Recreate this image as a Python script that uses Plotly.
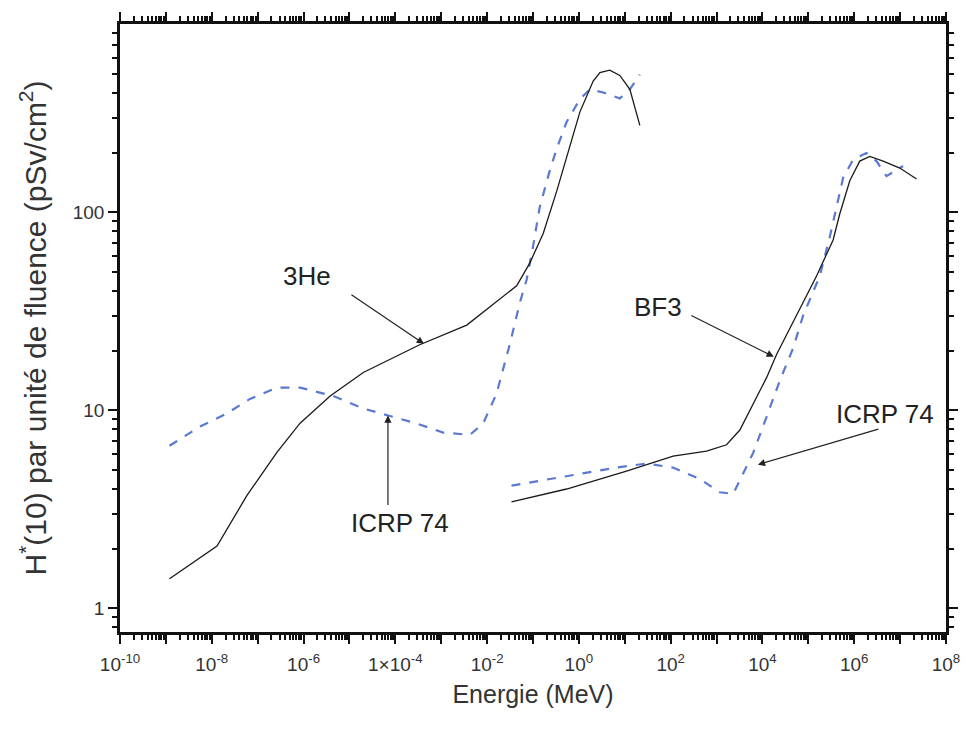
import plotly.graph_objects as go

# 3He detector response (solid)
he3_E = [1.2e-9, 1.3e-8, 5.8e-8, 2.6e-7, 8.4e-7, 3.8e-6, 2.0e-5, 3.4e-4, 3.6e-3,
         0.044, 0.085, 0.167, 0.33, 0.64, 1.05, 2.05, 2.87, 4.7, 7.8, 12.9, 21.3]
he3_H = [1.41, 2.06, 3.7, 6.1, 8.6, 11.8, 15.5, 21.4, 26.9,
         42.5, 55.3, 78, 128, 218, 320, 459, 507, 521, 490, 417, 274]

# ICRP 74 reference (dashed, 3He panel)
icrp1_E = [1.2e-9, 5.5e-9, 2.1e-8, 6.8e-8, 2.6e-7, 8.4e-7, 4.4e-6, 2.0e-5, 7.6e-5,
           2.9e-4, 1.1e-3, 4.2e-3, 8.2e-3, 0.016, 0.031, 0.052, 0.073, 0.10, 0.14,
           0.23, 0.33, 0.54, 1.05, 1.74, 3.4, 7.8, 12.9, 21.3]
icrp1_H = [6.61, 8.26, 9.61, 11.4, 13.0, 13.0, 11.8, 10.2, 9.35,
           8.57, 7.71, 7.50, 8.57, 12.1, 21.4, 35.1, 45.8, 67.0, 106,
           161, 210, 285, 372, 417, 402, 375, 417, 495]

# BF3 detector response (solid)
bf3_E = [0.034, 0.54, 10.9, 113, 605, 1650, 3220, 6270, 12300, 20300, 46700,
         1.51e5, 3.47e5, 4.85e5, 8.0e5, 1.32e6, 2.19e6, 4.27e6, 9.84e6, 2.28e7]
bf3_H = [3.44, 4.00, 4.93, 5.86, 6.21, 6.69, 7.94, 10.8, 14.6, 19.1, 27.9,
         47.6, 72.4, 98.1, 144, 181, 191, 181, 167, 147]

# ICRP 74 reference (dashed, BF3 panel)
icrp2_E = [0.034, 0.54, 6.6, 29.9, 113, 433, 1180, 2300, 3800, 6270, 12300,
           23900, 46700, 77100, 1.78e5, 2.94e5, 4.11e5, 5.73e5, 9.46e5, 1.85e6,
           3.05e6, 5.05e6, 9.84e6, 1.16e7]
icrp2_H = [4.16, 4.66, 5.13, 5.38, 5.13, 4.49, 3.85, 3.78, 4.84, 6.08, 9.25,
           14.1, 20.6, 30.1, 47.6, 75.2, 106, 149, 184, 199,
           181, 152, 167, 171]

x_tickvals = [10.0 ** k for k in range(-10, 9)]
x_ticktext = []
for k in range(-10, 9):
    if k % 2 != 0:
        x_ticktext.append("")
    elif k == -4:
        x_ticktext.append("1×10<sup>-4</sup>")
    else:
        x_ticktext.append("10<sup>%d</sup>" % k)

y_tickvals = [1, 10, 100]
y_ticktext = ["1", "10", "100"]

black = "#1a1a1a"
dash_col = "#5b79d2"
FAM = "Liberation Sans, Arial, sans-serif"

fig = go.Figure()
fig.add_trace(go.Scatter(x=icrp1_E, y=icrp1_H, mode="lines",
                         line=dict(color=dash_col, width=2.2, dash="dash"),
                         showlegend=False))
fig.add_trace(go.Scatter(x=he3_E, y=he3_H, mode="lines",
                         line=dict(color=black, width=1.3),
                         showlegend=False))
fig.add_trace(go.Scatter(x=icrp2_E, y=icrp2_H, mode="lines",
                         line=dict(color=dash_col, width=2.2, dash="dash"),
                         showlegend=False))
fig.add_trace(go.Scatter(x=bf3_E, y=bf3_H, mode="lines",
                         line=dict(color=black, width=1.3),
                         showlegend=False))

font_txt = dict(family=FAM, size=26, color="#222")
ann = []
# text labels
ann.append(dict(x=-5.926, y=1.677, xref="x", yref="y", text="3He", showarrow=False, font=font_txt))
ann.append(dict(x=-3.90, y=0.432, xref="x", yref="y", text="ICRP 74", showarrow=False, font=font_txt))
ann.append(dict(x=1.721, y=1.519, xref="x", yref="y", text="BF3", showarrow=False, font=font_txt))
ann.append(dict(x=6.667, y=0.983, xref="x", yref="y", text="ICRP 74", showarrow=False, font=font_txt))
# arrows
arrow_style = dict(xref="x", yref="y", text="", showarrow=True, arrowhead=2,
                   arrowsize=1.2, arrowwidth=1.2, arrowcolor="#222")
ann.append(dict(x=-3.377, y=1.335, ax=-74, ay=-50, **arrow_style))
ann.append(dict(x=-4.161, y=0.973, ax=0, ay=91, **arrow_style))
ann.append(dict(x=4.248, y=1.270, ax=-84, ay=-42, **arrow_style))
ann.append(dict(x=3.900, y=0.725, ax=122, ay=-36, **arrow_style))

axis_font = dict(family=FAM, size=19, color="#333")
fig.update_layout(
    width=975, height=730,
    margin=dict(l=120, r=29, t=14, b=98),
    paper_bgcolor="white", plot_bgcolor="white",
    annotations=ann,
    font=dict(family=FAM),
)
fig.update_xaxes(
    type="log", range=[-10, 8],
    tickvals=x_tickvals, ticktext=x_ticktext,
    ticks="outside", ticklen=9, tickwidth=2, tickcolor="#111",
    ticklabelstandoff=4,
    minor=dict(ticks="outside", ticklen=5, tickwidth=1.5, tickcolor="#111", dtick="D1", showgrid=False),
    showline=True, linewidth=2.5, linecolor="#111", mirror="ticks",
    showgrid=False, zeroline=False,
    tickfont=axis_font,
    title=dict(text="Energie (MeV)", font=dict(family=FAM, size=25, color="#333"), standoff=12),
)
fig.update_yaxes(
    type="log", range=[-0.12, 2.95],
    tickvals=y_tickvals, ticktext=y_ticktext,
    ticks="outside", ticklen=9, tickwidth=2, tickcolor="#111",
    minor=dict(ticks="outside", ticklen=5, tickwidth=1.5, tickcolor="#111", dtick="D1", showgrid=False),
    showline=True, linewidth=2.5, linecolor="#111", mirror="ticks",
    showgrid=False, zeroline=False,
    tickfont=axis_font,
    title=dict(text="H<sup>*</sup>(10) par unité de fluence (pSv/cm<sup>2</sup>)",
               font=dict(family=FAM, size=30, color="#333"), standoff=18),
)

fig.write_html("out.html")
